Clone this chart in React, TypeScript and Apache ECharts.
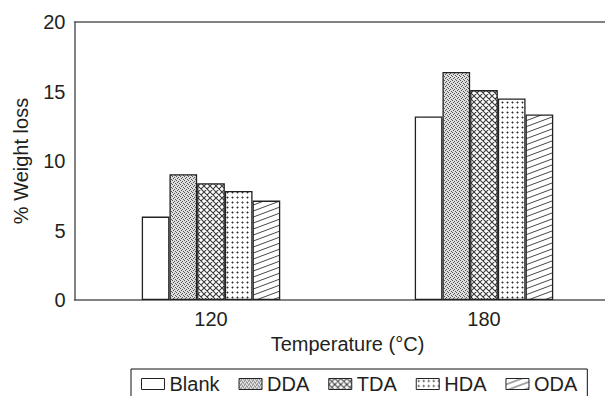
import React, { useEffect, useRef } from "react";
import * as echarts from "echarts";

const categories = ["120", "180"];
const seriesNames = ["Blank", "DDA", "TDA", "HDA", "ODA"];
const blankValues = [6.0, 13.2];
const ddaValues = [9.05, 16.4];
const tdaValues = [8.4, 15.1];
const hdaValues = [7.85, 14.5];
const odaValues = [7.15, 13.35];
const yTicks = { min: 0, max: 20, interval: 5 };

const FONT = "Liberation Sans, Arial, Helvetica, sans-serif";
const TEXT = "#231f20";
const AXIS = "#58595b";
const EDGE = "#222222";

function makeTile(
  w: number,
  h: number,
  bg: string,
  draw: (ctx: CanvasRenderingContext2D) => void
) {
  const c = document.createElement("canvas");
  c.width = w;
  c.height = h;
  const ctx = c.getContext("2d")!;
  ctx.fillStyle = bg;
  ctx.fillRect(0, 0, w, h);
  draw(ctx);
  return { image: c.toDataURL(), repeat: "repeat", imageWidth: w, imageHeight: h } as any;
}

function buildPatterns() {
  const dda = makeTile(4, 4, "#dedede", (ctx) => {
    ctx.fillStyle = "#555";
    ctx.fillRect(0, 0, 1, 1);
    ctx.fillRect(2, 1, 1, 1);
    ctx.fillRect(1, 2, 1, 1);
    ctx.fillRect(3, 3, 1, 1);
  });
  const tda = makeTile(6, 6, "#ffffff", (ctx) => {
    ctx.strokeStyle = "#3a3a3a";
    ctx.lineWidth = 1.1;
    ctx.beginPath();
    for (const o of [-6, 0, 6]) {
      ctx.moveTo(o, 0);
      ctx.lineTo(o + 6, 6);
      ctx.moveTo(o + 6, 0);
      ctx.lineTo(o, 6);
    }
    ctx.stroke();
  });
  const hda = makeTile(5, 5, "#ffffff", (ctx) => {
    ctx.fillStyle = "#333";
    ctx.fillRect(2, 2, 1, 1);
    ctx.fillStyle = "#999";
    ctx.fillRect(1, 2, 1, 1);
    ctx.fillRect(3, 2, 1, 1);
    ctx.fillRect(2, 1, 1, 1);
    ctx.fillRect(2, 3, 1, 1);
  });
  const oda = makeTile(16, 6, "#ffffff", (ctx) => {
    ctx.strokeStyle = "#333";
    ctx.lineWidth = 0.9;
    ctx.beginPath();
    for (const dy of [-6, 0, 6]) {
      ctx.moveTo(-16, 12 + dy);
      ctx.lineTo(32, -6 + dy);
    }
    ctx.stroke();
  });
  return { blank: "#ffffff", dda, tda, hda, oda };
}

export default function App() {
  const ref = useRef<HTMLDivElement>(null);
  useEffect(() => {
    document.body.style.margin = "0";
    const chart = echarts.init(ref.current!, null, { renderer: "svg" });
    const p = buildPatterns();
    const fills = [p.blank, p.dda, p.tda, p.hda, p.oda];
    const values = [blankValues, ddaValues, tdaValues, hdaValues, odaValues];
    chart.setOption({
      animation: false,
      backgroundColor: "#ffffff",
      textStyle: { fontFamily: FONT, color: TEXT },
      grid: {
        left: 74.5,
        top: 22,
        width: 546,
        height: 278,
        show: false,
        outerBoundsMode: "none",
      },
      legend: {
        left: 131,
        top: 369,
        padding: [5, 10, 10, 10],
        borderColor: "#111",
        borderWidth: 1,
        itemWidth: 23,
        itemHeight: 11,
        itemGap: 19,
        icon: "rect",
        data: seriesNames,
        textStyle: { fontSize: 20, color: TEXT, fontFamily: FONT },
        itemStyle: { borderColor: EDGE, borderWidth: 1 },
      },
      xAxis: [
        {
          type: "category",
          data: categories,
          position: "bottom",
          name: "Temperature (°C)",
          nameLocation: "middle",
          nameGap: 33,
          nameTextStyle: { fontSize: 20, color: TEXT, fontFamily: FONT },
          axisLine: { show: true, lineStyle: { color: AXIS, width: 1.5 } },
          axisTick: { show: false },
          axisLabel: { fontSize: 20, color: TEXT, margin: 9, fontFamily: FONT },
          splitLine: { show: false },
        },
        {
          type: "category",
          data: categories,
          position: "top",
          axisLine: { show: true, lineStyle: { color: AXIS, width: 1.5 } },
          axisTick: { show: false },
          axisLabel: { show: false },
          splitLine: { show: false },
        },
      ],
      yAxis: {
        type: "value",
        min: yTicks.min,
        max: yTicks.max,
        interval: yTicks.interval,
        name: "% Weight loss",
        nameLocation: "middle",
        nameGap: 44,
        nameTextStyle: { fontSize: 20, color: TEXT, fontFamily: FONT },
        axisLine: { show: true, lineStyle: { color: AXIS, width: 1.5 } },
        axisTick: { show: false },
        axisLabel: { fontSize: 20, color: TEXT, margin: 9, fontFamily: FONT },
        splitLine: { show: false },
      },
      series: seriesNames.map((name, i) => ({
        name,
        type: "bar",
        xAxisIndex: 0,
        data: values[i],
        barWidth: 27.7,
        barGap: "0%",
        itemStyle: { color: fills[i], borderColor: EDGE, borderWidth: 1.3 },
      })),
    });
    return () => chart.dispose();
  }, []);
  return (
    <div
      style={{
        position: "fixed",
        left: 0,
        top: 0,
        width: 605,
        height: 396,
        overflow: "hidden",
        background: "#fff",
      }}
    >
      <div ref={ref} style={{ width: 610, height: 396 }} />
    </div>
  );
}
